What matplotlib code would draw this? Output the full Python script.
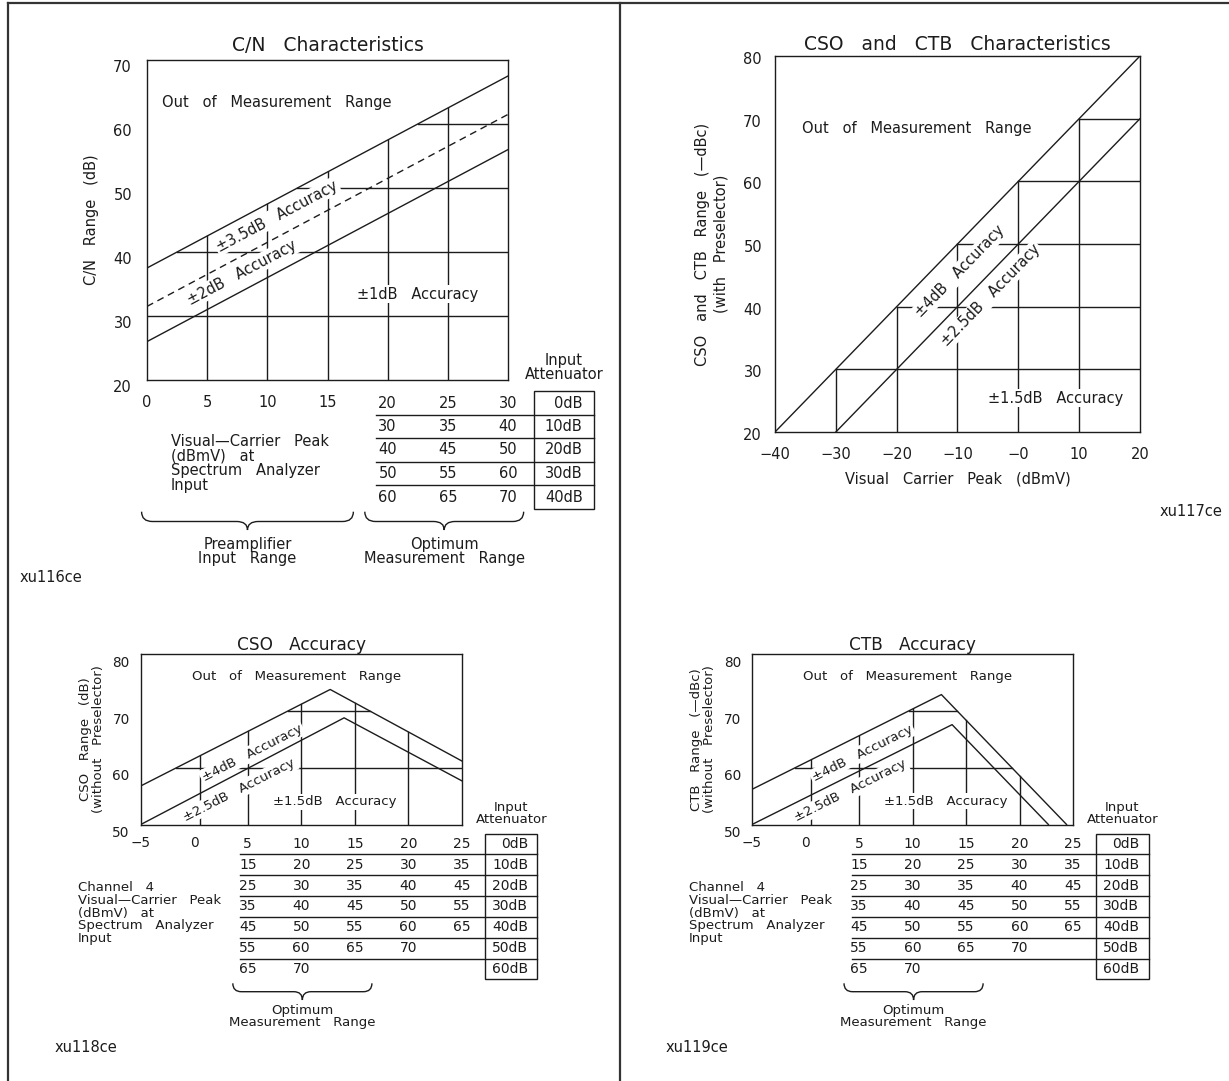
import numpy as np
import matplotlib
matplotlib.use('Agg')
import matplotlib.pyplot as plt
from matplotlib.transforms import blended_transform_factory, ScaledTranslation
from matplotlib.path import Path
from matplotlib.patches import PathPatch, Rectangle

# ---- C/N Characteristics ----
cn_x = [0, 30]
cn_upper = [37.5, 67.5]
cn_dashed = [31.5, 61.5]
cn_lower = [26.0, 56.0]
cn_grid_x = [5, 10, 15, 20, 25]
cn_grid_y = [30, 40, 50, 60]
cn_xticks = [0, 5, 10, 15]
cn_yticks = [20, 30, 40, 50, 60, 70]
cn_cols = [20, 25, 30]
cn_rows = [[20, 25, 30], [30, 35, 40], [40, 45, 50], [50, 55, 60], [60, 65, 70]]
cn_atten = ['0dB', '10dB', '20dB', '30dB', '40dB']

# ---- CSO and CTB Characteristics ----
cc_upper_x = [-40, 20]
cc_upper = [20, 80]
cc_lower_x = [-30, 20]
cc_lower = [20, 70]
cc_grid_x = [-30, -20, -10, 0, 10]
cc_grid_y = [30, 40, 50, 60, 70]
cc_xticks = [-40, -30, -20, -10, 0, 10, 20]
cc_xticklabels = ['\u221240', '\u221230', '\u221220', '\u221210', '\u22120', '10', '20']
cc_yticks = [20, 30, 40, 50, 60, 70, 80]

# ---- CSO Accuracy ----
cso_upper_x = [-5, 12.7, 25]
cso_upper = [56.8, 73.8, 61.2]
cso_lower_x = [-5, 14.0, 25]
cso_lower = [50, 68.8, 57.7]

# ---- CTB Accuracy ----
ctb_upper_x = [-5, 12.7, 24.4]
ctb_upper = [56.2, 72.9, 50]
ctb_lower_x = [-5, 13.7, 22.7]
ctb_lower = [50, 67.6, 50]

acc_grid_x = [0.5, 5, 10, 15, 20]
acc_grid_y = [60, 70]
acc_xticks = [-5, 0]
acc_yticks = [50, 60, 70, 80]
acc_cols = [5, 10, 15, 20, 25]
acc_rows = [[5, 10, 15, 20, 25], [15, 20, 25, 30, 35], [25, 30, 35, 40, 45],
            [35, 40, 45, 50, 55], [45, 50, 55, 60, 65], [55, 60, 65, 70], [65, 70]]
acc_atten = ['0dB', '10dB', '20dB', '30dB', '40dB', '50dB', '60dB']

W, H = 1229, 1081
INK = '#1c1c1c'
LW = 1.0
FS = 10.5
FSB = 9.5
MASK = dict(facecolor='white', edgecolor='none', pad=1.2)

plt.rcParams['font.family'] = ['DejaVu Sans']
fig = plt.figure(figsize=(W / 100, H / 100), dpi=100)

page = fig.add_axes([0, 0, 1, 1])
page.set_xlim(0, W)
page.set_ylim(H, 0)
page.axis('off')


def wide(s, n=3):
    # the original lettering uses very wide word gaps
    return s.replace(' ', ' ' * n)


def px_axes(x0, y0, x1, y1):
    return fig.add_axes([x0 / W, 1 - y1 / H, (x1 - x0) / W, (y1 - y0) / H])


def style(ax, xlim, ylim, xticks, xlabels, yticks, xpad, ypad, ydown, fs=FS):
    ax.set_xlim(*xlim)
    ax.set_ylim(*ylim)
    ax.set_xticks(xticks)
    ax.set_xticklabels(xlabels)
    ax.set_yticks(yticks)
    ax.tick_params(length=0, labelsize=fs, colors=INK)
    ax.tick_params(axis='x', pad=xpad)
    ax.tick_params(axis='y', pad=ypad)
    for s in ax.spines.values():
        s.set_linewidth(LW)
        s.set_color(INK)
    off = ScaledTranslation(0, -ydown / 100, fig.dpi_scale_trans)
    for lab in ax.get_yticklabels():
        lab.set_transform(lab.get_transform() + off)


def slope_angle(ax, xs, ys):
    p = ax.transData.transform([(xs[0], ys[0]), (xs[1], ys[1])])
    return np.degrees(np.arctan2(p[1, 1] - p[0, 1], p[1, 0] - p[0, 0]))


def grid_under(ax, xs, ys, gx_list, gy_list, ymin, xmax):
    k = int(np.argmax(ys))
    for gx in gx_list:
        ax.plot([gx, gx], [ymin, np.interp(gx, xs, ys)], color=INK, lw=LW, zorder=2)
    for gy in gy_list:
        left = np.interp(gy, ys[:k + 1], xs[:k + 1])
        right = np.interp(gy, ys[k:][::-1], xs[k:][::-1])
        right = min(right, xmax)
        ax.plot([left, right], [gy, gy], color=INK, lw=LW, zorder=2)


def label(ax, x, y, s, ang=0, fs=FS, ha='center', n=3):
    ax.text(x, y, wide(s, n), rotation=ang, rotation_mode='anchor', ha=ha, va='center',
            fontsize=fs, color=INK, bbox=MASK, zorder=2.2)


def draw_table(ax, cols, rows, atten, y0, dy, line_x0, box_x0, box_x1, att_x, head_y,
               fs=FS, hfs=FS):
    tr = blended_transform_factory(ax.transData, page.transData)
    ys = [y0 + i * dy for i in range(len(rows))]
    for y, vals, att in zip(ys, rows, atten):
        for c, v in zip(cols, vals):
            page.text(c, y, str(v), transform=tr, ha='center', va='center', fontsize=fs, color=INK)
        page.text(att_x, y, att, transform=tr, ha='right', va='center', fontsize=fs, color=INK)
    for y in ys[:-1]:
        page.plot([line_x0, box_x1], [y + dy / 2] * 2, transform=tr, color=INK, lw=LW)
    top, bot = ys[0] - dy / 2, ys[-1] + dy / 2
    page.add_patch(Rectangle((box_x0, top), box_x1 - box_x0, bot - top, transform=tr,
                             fill=False, ec=INK, lw=LW))
    page.text((box_x0 + box_x1) / 2, head_y, 'Input\nAttenuator', transform=tr, ha='center',
              va='center', fontsize=hfs, color=INK, linespacing=0.95)


def brace(ax, x0, x1, yt, ym, yb, r, text, text_y, fs=FS):
    tr = blended_transform_factory(ax.transData, page.transData)
    xm = (x0 + x1) / 2
    verts = [(x0, yt), (x0, ym), (x0 + r, ym), (xm - r, ym), (xm, ym), (xm, yb),
             (xm, ym), (xm + r, ym), (x1 - r, ym), (x1, ym), (x1, yt)]
    codes = [Path.MOVETO, Path.CURVE3, Path.CURVE3, Path.LINETO, Path.CURVE3, Path.CURVE3,
             Path.CURVE3, Path.CURVE3, Path.LINETO, Path.CURVE3, Path.CURVE3]
    page.add_patch(PathPatch(Path(verts, codes), transform=tr, fill=False, ec=INK, lw=LW))
    page.text(xm, text_y, wide(text), transform=tr, ha='center', va='center', fontsize=fs,
              color=INK, linespacing=0.9)


# frame of the page
page.plot([7.5, W], [3, 3], color='#333333', lw=1.6)
page.plot([7.5, 7.5], [3, H], color='#333333', lw=1.6)
page.plot([620, 620], [3, H], color='#333333', lw=1.6)

# ================= C/N Characteristics =================
ax1 = px_axes(147, 60, 508, 380)
style(ax1, (0, 30), (20, 70), cn_xticks, [str(v) for v in cn_xticks], cn_yticks, 10.7, 10.8, 6)
ax1.set_title(wide('C/N Characteristics'), fontsize=13.5, pad=6.6, color=INK)
ax1.set_ylabel(wide('C/N Range (dB)'), fontsize=10.5, color=INK)
ax1.yaxis.label.set_va('center')
ax1.yaxis.set_label_coords(-0.155, 0.5)
grid_under(ax1, cn_x, cn_upper, cn_grid_x, cn_grid_y, 20, 30)
ax1.plot(cn_x, cn_upper, color=INK, lw=LW, zorder=4)
ax1.plot(cn_x, cn_dashed, color=INK, lw=LW, ls=(0, (5, 3.5)), zorder=4)
ax1.plot(cn_x, cn_lower, color=INK, lw=LW, zorder=4)
a1 = slope_angle(ax1, cn_x, cn_upper)
label(ax1, 1.25, 63.4, 'Out of Measurement Range', ha='left')
label(ax1, 10.8, 45.6, '\u00b13.5dB Accuracy', a1)
label(ax1, 7.9, 36.8, '\u00b12dB Accuracy', a1)
label(ax1, 22.5, 33.4, '\u00b11dB Accuracy')
draw_table(ax1, cn_cols, cn_rows, cn_atten, 403, 23.5, 19.0, 32.16, 37.15, 36.2, 367.5)
tr1 = blended_transform_factory(ax1.transData, page.transData)
page.text(1.97, 434, wide('Visual\u2014Carrier Peak\n(dBmV) at\nSpectrum Analyzer\nInput'),
          transform=tr1, ha='left', va='top', fontsize=FS, color=INK, linespacing=0.96)
brace(ax1, -0.45, 17.15, 511.7, 521.5, 530, 0.9, 'Preamplifier\nInput Range', 551.7)
brace(ax1, 18.1, 31.3, 511.7, 521.5, 530, 0.9, 'Optimum\nMeasurement Range', 551.7)
page.text(20, 578, 'xu116ce', ha='left', va='center', fontsize=FS, color=INK)

# ================= CSO and CTB Characteristics =================
ax2 = px_axes(775, 56, 1140, 432)
style(ax2, (-40, 20), (20, 80), cc_xticks, cc_xticklabels, cc_yticks, 10.7, 9.4, 2)
ax2.set_title(wide('CSO and CTB Characteristics'), fontsize=13.5, pad=4.5, color=INK)
ax2.set_ylabel(wide('CSO and CTB Range (\u2014dBc)\n(with Preselector)'), fontsize=10.5,
               color=INK, linespacing=1.3)
ax2.yaxis.label.set_va('center')
ax2.yaxis.set_label_coords(-0.173, 0.5)
ax2.set_xlabel(wide('Visual Carrier Peak (dBmV)'), fontsize=10.5, color=INK)
ax2.xaxis.label.set_va('center')
ax2.xaxis.set_label_coords(0.5, -0.125)
grid_under(ax2, cc_upper_x, cc_upper, cc_grid_x, cc_grid_y, 20, 20)
ax2.plot(cc_upper_x, cc_upper, color=INK, lw=LW, zorder=4)
ax2.plot(cc_lower_x, cc_lower, color=INK, lw=LW, zorder=4)
a2 = slope_angle(ax2, cc_upper_x, cc_upper)
label(ax2, -35.5, 68.5, 'Out of Measurement Range', ha='left')
label(ax2, -9.6, 45.6, '\u00b14dB Accuracy', a2)
label(ax2, -4.5, 41.8, '\u00b12.5dB Accuracy', a2)
label(ax2, 6.2, 25.4, '\u00b11.5dB Accuracy')
page.text(1222, 512, 'xu117ce', ha='right', va='center', fontsize=FS, color=INK)


# ================= CSO / CTB Accuracy =================
def accuracy_panel(x0, title, ylab, ux, uy, lx, ly, tag, texts):
    ax = px_axes(x0, 654.3, x0 + 321, 824.5)
    style(ax, (-5, 25), (50, 80), acc_xticks, ['\u22125', '0'], acc_yticks, 8.1, 8.0, 7, fs=9.8)
    ax.set_title(wide(title), fontsize=12.2, pad=3, color=INK)
    ax.set_ylabel(wide(ylab), fontsize=9.5, color=INK, linespacing=0.95)
    ax.yaxis.label.set_va('center')
    ax.yaxis.set_label_coords(-0.152, 0.5)
    grid_under(ax, ux, uy, acc_grid_x, acc_grid_y, 50, 25)
    ax.plot(ux, uy, color=INK, lw=LW, zorder=4)
    ax.plot(lx, ly, color=INK, lw=LW, zorder=4)
    ang = slope_angle(ax, ux[:2], uy[:2])
    label(ax, texts[0][0], texts[0][1], 'Out of Measurement Range', fs=FSB)
    label(ax, texts[1][0], texts[1][1], '\u00b14dB Accuracy', ang, fs=FSB)
    label(ax, texts[2][0], texts[2][1], '\u00b12.5dB Accuracy', ang, fs=FSB)
    label(ax, texts[3][0], texts[3][1], '\u00b11.5dB Accuracy', fs=FSB)
    draw_table(ax, acc_cols, acc_rows, acc_atten, 844, 20.83, 4.3, 27.17, 32.07, 31.2, 813.5,
               fs=10, hfs=FSB)
    tr = blended_transform_factory(ax.transData, page.transData)
    page.text(-10.87, 881,
              wide('Channel 4\nVisual\u2014Carrier Peak\n(dBmV) at\nSpectrum Analyzer\nInput'),
              transform=tr, ha='left', va='top', fontsize=FSB, color=INK, linespacing=0.98)
    brace(ax, 3.6, 16.6, 983.3, 991.7, 1000, 0.8, 'Optimum\nMeasurement Range', 1016.5, fs=FSB)
    page.text(tag[1], 1048, tag[0], ha='left', va='center', fontsize=FS, color=INK)
    return ax


accuracy_panel(140.8, 'CSO Accuracy', 'CSO Range (dB)\n(without Preselector)',
               cso_upper_x, cso_upper, cso_lower_x, cso_lower, ('xu118ce', 55),
               [(9.56, 76.1), (5.4, 62.6), (4.2, 56.1), (13.15, 54.0)])
accuracy_panel(752, 'CTB Accuracy', 'CTB Range (\u2014dBc)\n(without Preselector)',
               ctb_upper_x, ctb_upper, ctb_lower_x, ctb_lower, ('xu119ce', 666),
               [(9.58, 76.1), (5.3, 62.6), (4.2, 55.9), (13.1, 54.1)])

fig.savefig('out.png', dpi=100)
